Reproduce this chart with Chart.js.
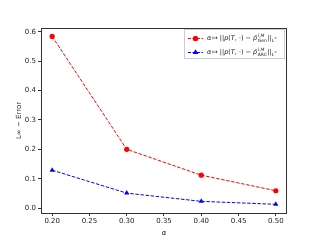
<!DOCTYPE html>
<html><head><meta charset="utf-8">
<script src="https://cdn.jsdelivr.net/npm/chart.js@4/dist/chart.umd.min.js"></script>
<style>html,body{margin:0;padding:0;background:#fff}#wrap{width:320px;height:240px}</style>
</head><body><div id="wrap"><canvas id="c" width="320" height="240"></canvas></div>
<script>
const alphas = [0.20, 0.30, 0.40, 0.50];
const errGen = [0.584, 0.200, 0.112, 0.059];
const errArc = [0.129, 0.051, 0.023, 0.013];
const xTicks = [0.20, 0.25, 0.30, 0.35, 0.40, 0.45, 0.50];
const yTicks = [0.0, 0.1, 0.2, 0.3, 0.4, 0.5, 0.6];
const seriesLabels = ['α ↦ ||p(T, ·) − p̃Gen||L∞', 'α ↦ ||p(T, ·) − p̃ARC||L∞'];
const seriesSub = ['Gen', 'ARC'];

const FONT = 'DejaVu Sans';
const frame = {
  id: 'frame',
  afterDatasetsDraw(chart) {
    const a = chart.chartArea, ctx = chart.ctx;
    ctx.save();
    ctx.strokeStyle = '#333'; ctx.lineWidth = 1;
    ctx.strokeRect(Math.round(a.left) + 0.5, Math.round(a.top) + 0.5, Math.round(a.right - a.left) - 1, Math.round(a.bottom - a.top));
    // legend
    const bx = 184.5, by = 29.5, bw = 100, bh = 29;
    ctx.fillStyle = 'rgba(255,255,255,0.8)';
    ctx.fillRect(bx, by, bw, bh);
    ctx.strokeStyle = '#ccc';
    ctx.strokeRect(bx, by, bw, bh);
    chart.data.datasets.forEach((ds, i) => {
      const y = 38.5 + i * 14;
      ctx.strokeStyle = ds.borderColor; ctx.lineWidth = 1;
      ctx.setLineDash([3, 1.5]);
      ctx.beginPath(); ctx.moveTo(188, y); ctx.lineTo(203, y); ctx.stroke();
      ctx.setLineDash([]);
      ctx.fillStyle = ds.backgroundColor;
      Chart.helpers.drawPoint(ctx, {pointStyle: ds.pointStyle, radius: ds.pointRadius, borderWidth: 0}, 195.5, y);
      ctx.fill();
      // rich text
      ctx.fillStyle = '#222';
      ctx.textBaseline = 'middle';
      let x = 207;
      ctx.font = 'italic 6.5px ' + FONT;
      ctx.fillText('α', x, y); x += ctx.measureText('α').width + 1;
      ctx.font = '6.5px ' + FONT;
      ctx.fillText('↦ ||', x, y); x += ctx.measureText('↦ ||').width;
      ctx.font = 'italic 6.5px ' + FONT;
      ctx.fillText('p', x, y); x += ctx.measureText('p').width;
      ctx.font = '6.5px ' + FONT;
      ctx.fillText('(', x, y); x += ctx.measureText('(').width;
      ctx.font = 'italic 6.5px ' + FONT;
      ctx.fillText('T', x, y); x += ctx.measureText('T').width;
      ctx.font = '6.5px ' + FONT;
      const t2 = ', ·) − ';
      ctx.fillText(t2, x, y); x += ctx.measureText(t2).width;
      ctx.font = 'italic 6.5px ' + FONT;
      ctx.fillText('p̃', x, y); x += ctx.measureText('p').width + 0.5;
      ctx.font = 'italic 4.5px ' + FONT;
      ctx.fillText('l,M', x, y - 3);
      ctx.font = '4.5px ' + FONT;
      ctx.fillText(seriesSub[i], x, y + 2);
      x += Math.max(ctx.measureText(seriesSub[i]).width, 7) + 0.5;
      ctx.font = '6.5px ' + FONT;
      ctx.fillText('||', x, y); x += ctx.measureText('||').width;
      ctx.font = 'italic 4.5px ' + FONT;
      ctx.fillText('L', x, y + 2); x += ctx.measureText('L').width;
      ctx.font = '3.5px ' + FONT;
      ctx.fillText('∞', x, y);
    });
    ctx.restore();
  }
};

new Chart(document.getElementById('c'), {
  type: 'line',
  data: {
    datasets: [
      {label: seriesLabels[0], data: alphas.map((a, i) => ({x: a, y: errGen[i]})),
       borderColor: '#ff0000', backgroundColor: '#ff0000', borderWidth: 1, borderDash: [3.5, 1.6],
       pointStyle: 'circle', pointRadius: 2.6, pointBorderWidth: 0, tension: 0},
      {label: seriesLabels[1], data: alphas.map((a, i) => ({x: a, y: errArc[i]})),
       borderColor: '#0000ff', backgroundColor: '#0000ff', borderWidth: 1, borderDash: [3.5, 1.6],
       pointStyle: 'triangle', pointRadius: 3, pointBorderWidth: 0, tension: 0}
    ]
  },
  options: {
    responsive: false, animation: false, devicePixelRatio: 1,
    layout: {padding: {left: 0, top: 28, right: 33, bottom: 0}},
    plugins: {legend: {display: false}, tooltip: {enabled: false}},
    scales: {
      x: {
        type: 'linear', min: 0.185, max: 0.515,
        afterBuildTicks: s => { s.ticks = xTicks.map(v => ({value: v})); },
        afterFit: s => { s.height = 27; },
        grid: {drawOnChartArea: false, drawTicks: true, tickLength: 3, color: '#333', tickColor: '#333'},
        border: {display: false},
        ticks: {font: {family: FONT, size: 7}, color: '#222', padding: 1, maxRotation: 0,
                callback: v => v.toFixed(2)},
        title: {display: true, text: 'α', font: {family: FONT, size: 7, style: 'italic'}, color: '#222', padding: {top: 0, bottom: 3}}
      },
      y: {
        type: 'linear', min: -0.0166, max: 0.6126,
        afterBuildTicks: s => { s.ticks = yTicks.map(v => ({value: v})); },
        afterFit: s => { s.width = 41; },
        grid: {drawOnChartArea: false, drawTicks: true, tickLength: 3, color: '#333', tickColor: '#333'},
        border: {display: false},
        ticks: {font: {family: FONT, size: 7}, color: '#222', padding: 2,
                callback: v => v.toFixed(1)},
        title: {display: true, text: 'L∞ − Error', font: {family: FONT, size: 7}, color: '#222', padding: {top: 15, bottom: 0}}
      }
    }
  },
  plugins: [frame]
});
</script></body></html>
